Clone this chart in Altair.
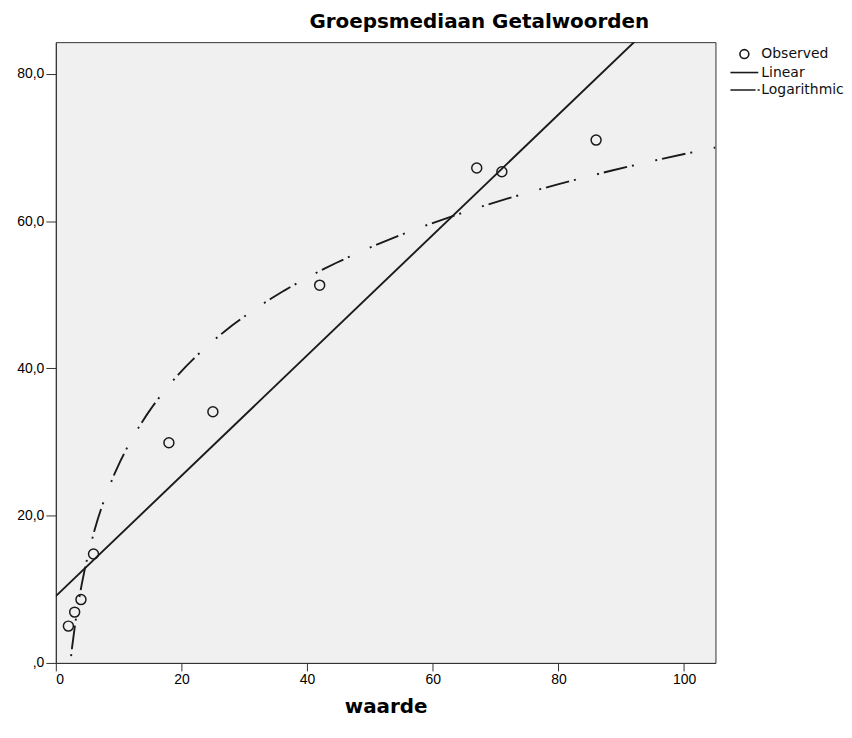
import altair as alt
import pandas as pd

x_vals = [2, 3, 4, 6, 18, 25, 42, 67, 71, 86]
y_vals = [5.0, 6.9, 8.6, 14.8, 29.9, 34.1, 51.3, 67.2, 66.7, 71.0]
series_names = ["Observed", "Linear", "Logarithmic"]
x_ticks = [0, 20, 40, 60, 80, 100]
y_ticks = [0, 20, 40, 60, 80]
x_domain = [0, 105]
y_domain = [0, 84.3]
lin_extent = [0, 105]
log_extent = [1, 105]

df = pd.DataFrame({"waarde": x_vals, "mediaan": y_vals, "series": "Observed"})

circle_path = "M-0.64,0A0.64,0.64,0,1,1,0.64,0A0.64,0.64,0,1,1,-0.64,0Z"
line_path = "M-2,0H2"
dashdot_path = "M-2,0H1.6M1.9,0H2.2"

xscale = alt.Scale(domain=x_domain, nice=False, zero=False)
yscale = alt.Scale(domain=y_domain, nice=False, zero=False)

xaxis = alt.Axis(values=x_ticks, title="waarde", grid=False, tickSize=8,
                 labelPadding=2, titlePadding=10, format="d")
yaxis = alt.Axis(values=y_ticks, title=None, grid=False, tickSize=10, labelPadding=2,
                 labelExpr="datum.value == 0 ? ',0' : replace(format(datum.value, '.1f'), '.', ',')")

base = alt.Chart(df)

lin = base.transform_regression(
    "waarde", "mediaan", method="linear", extent=lin_extent
).mark_line(color="#1a1a1a", strokeWidth=1.9, clip=True).encode(
    x=alt.X("waarde:Q", scale=xscale, axis=xaxis),
    y=alt.Y("mediaan:Q", scale=yscale, axis=yaxis),
)

logc = base.transform_regression(
    "waarde", "mediaan", method="log", extent=log_extent
).mark_line(color="#1a1a1a", strokeWidth=1.9, strokeDash=[2, 5, 24, 5, 2, 22], clip=True).encode(
    x=alt.X("waarde:Q", scale=xscale, axis=xaxis),
    y=alt.Y("mediaan:Q", scale=yscale, axis=yaxis),
)

points = base.mark_point(filled=False, size=244, strokeWidth=1.5, color="#1a1a1a", opacity=1).encode(
    x=alt.X("waarde:Q", scale=xscale, axis=xaxis),
    y=alt.Y("mediaan:Q", scale=yscale, axis=yaxis),
    shape=alt.Shape(
        "series:N",
        scale=alt.Scale(domain=series_names, range=[circle_path, line_path, dashdot_path]),
        legend=alt.Legend(
            title=None, orient="none", legendX=683, legendY=4,
            symbolSize=196, symbolStrokeWidth=1.6, symbolStrokeColor="#1a1a1a",
            symbolFillColor="transparent", symbolOpacity=1,
            labelFont="DejaVu Sans", labelFontSize=14,
            labelColor="#111", labelOffset=9, rowPadding=2.5, padding=0,
        ),
    ),
)

chart = alt.layer(lin, logc, points).properties(
    width=662,
    height=623,
    title=alt.Title("Groepsmediaan Getalwoorden", font="DejaVu Sans", fontSize=20,
                    fontWeight="bold", anchor="middle", dx=94, offset=10, color="#000"),
    padding={"left": 8, "top": 3, "right": 0, "bottom": 0},
).configure_view(
    fill="#F0F0F0", stroke="#333", strokeWidth=1
).configure_axis(
    labelFont="Liberation Sans", labelFontSize=14, labelColor="#000",
    titleFont="DejaVu Sans", titleFontSize=20, titleFontWeight="bold", titleColor="#000",
    domainColor="#333", tickColor="#333", domainWidth=1, tickWidth=1,
)

chart.save("out.html", embed_options={"renderer": "svg", "actions": False})
